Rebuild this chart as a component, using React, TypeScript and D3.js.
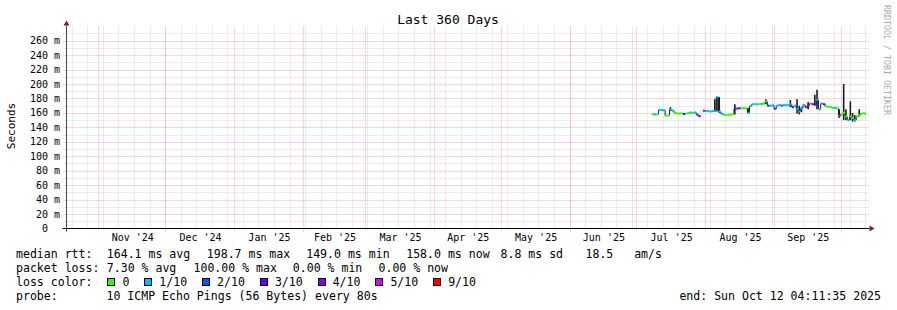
import React from "react";
import * as d3 from "d3";

// ---------- data ----------
const startTime = "2024-10-17T04:11:35Z";
const endTime = "2025-10-12T04:11:35Z";
const yTop = 276.8; // ms
const yMajorTicks = [0, 20, 40, 60, 80, 100, 120, 140, 160, 180, 200, 220, 240, 260];
const monthStarts = [
  "2024-11-01", "2024-12-01", "2025-01-01", "2025-02-01", "2025-03-01", "2025-04-01",
  "2025-05-01", "2025-06-01", "2025-07-01", "2025-08-01", "2025-09-01", "2025-10-01",
];
const monthLabels = ["Nov '24", "Dec '24", "Jan '25", "Feb '25", "Mar '25", "Apr '25", "May '25", "Jun '25", "Jul '25", "Aug '25", "Sep '25"];

const days = [
  "07-08", "07-09", "07-10", "07-11", "07-12", "07-13", "07-14", "07-15", "07-16", "07-17",
  "07-18", "07-19", "07-20", "07-21", "07-22", "07-23", "07-24", "07-25", "07-26", "07-27",
  "07-28", "07-29", "07-30", "07-31", "08-01", "08-02", "08-03", "08-04", "08-05", "08-06",
  "08-07", "08-08", "08-09", "08-10", "08-11", "08-12", "08-13", "08-14", "08-15", "08-16",
  "08-17", "08-18", "08-19", "08-20", "08-21", "08-22", "08-23", "08-24", "08-25", "08-26",
  "08-27", "08-28", "08-29", "08-30", "08-31", "09-01", "09-02", "09-03", "09-04", "09-05",
  "09-06", "09-07", "09-08", "09-09", "09-10", "09-11", "09-12", "09-13", "09-14", "09-15",
  "09-16", "09-17", "09-18", "09-19", "09-20", "09-21", "09-22", "09-23", "09-24", "09-25",
  "09-26", "09-27", "09-28", "09-29", "09-30", "10-01", "10-02", "10-03", "10-04", "10-05",
  "10-06", "10-07", "10-08", "10-09", "10-10", "10-11", "10-12",
];
const medianMs: (number | null)[] = [
  158, 158, 158, 164, 164, 163.5, 156, 156.5, 165, 163,
  160, 159.5, 159, 159.5, 158.5, 159, 159.5, 160.5, 160, 160.5,
  157.5, 155.5, null, 163, 162.5, 162.5, 162, 162.5, 162.5, 182,
  162, 159, 157.5, 157, 157, 157.5, 158, 166, 166, 166.5,
  166, 167, 166, 160, 169.5, 172, 172, 172, 172, 172.5,
  173, 176, 170, 170, 170.5, 165.5, 170, 171, 170, 171,
  170.5, 171, 172, 168, 170, 165, 162, 166, 171, 168,
  170, 173, 172, 172, 178, 165, 173, 172, 169, 168.5,
  168, 167, 167, 166, 156, 158, 160, 155, 150, 155,
  153, 150, 155.5, 157, 159, 159.5, 158,
];
const lossIdx = [
  0, 1, 0, 1, 1, 1, 0, 0, 1, 1,
  0, 0, 0, 0, 3, 0, 0, 1, 0, 1,
  2, 3, 0, 6, 1, 1, 1, 1, 1, 1,
  1, 1, 0, 0, 0, 0, 0, 3, 3, 3,
  0, 0, 0, 1, 1, 1, 0, 1, 0, 1,
  0, 0, 3, 1, 1, 2, 1, 1, 2, 1,
  1, 1, 1, 3, 1, 1, 1, 1, 1, 3,
  6, 1, 3, 3, 1, 1, 1, 3, 0, 0,
  0, 0, 1, 0, 5, 0, 0, 0, 1, 0,
  0, 1, 0, 0, 0, 0, 0,
];
const smokeLo: (number | null)[] = [
  null, null, null, null, null, null, null, null, 163, null,
  null, null, null, null, null, null, null, null, null, null,
  null, null, null, null, null, null, null, null, 162, 162,
  160, null, null, null, null, null, null, 158, null, null,
  null, null, null, 159, null, null, null, null, null, null,
  null, 172, null, null, null, null, null, null, null, null,
  null, null, 168, null, null, 159, 158, 161, null, null,
  165, null, null, 170, 165, null, null, null, null, null,
  null, null, null, null, 153, null, 150, 150, null, 150,
  148, 148, null, 155, null, null, null,
];
const smokeHi: (number | null)[] = [
  null, null, null, null, null, null, null, null, 168, null,
  null, null, null, null, null, null, null, null, null, null,
  null, null, null, null, null, null, null, null, 179, 182,
  182, null, null, null, null, null, null, 172, null, null,
  null, null, null, 167, null, null, null, null, null, null,
  null, 179, null, null, null, null, null, null, null, null,
  null, null, 178, null, null, 179, 170, 168, null, null,
  175, null, null, 185, 192, null, null, null, null, null,
  null, null, null, null, 165, null, 200, 165, null, 176,
  160, 157, null, 165, null, null, null,
];

const lossLabels = ["0", "1/10", "2/10", "3/10", "4/10", "5/10", "9/10"];
const lossColors = ["#26ff00", "#00b8ff", "#0059ff", "#5e00ff", "#7e00ff", "#dd00ff", "#ff0000"];

const rttItems = ["median rtt:", "164.1 ms avg", "198.7 ms max", "149.0 ms min", "158.0 ms now", "8.8 ms sd", "18.5   am/s"];
const lossStatItems = ["packet loss:", "7.30 % avg", "100.00 % max", "0.00 % min", "0.00 % now"];
const lossTitle = "loss color:";
const probeTitle = "probe:";
const probeText = "10 ICMP Echo Pings (56 Bytes) every 80s";
const endText = "end: Sun Oct 12 04:11:35 2025";
const titleText = "Last 360 Days";
const yAxisTitle = "Seconds";
const watermark = "RRDTOOL / TOBI OETIKER";

// ---------- layout ----------
const W = 897, H = 310;
const X0 = 65.5, X1 = 865.5;
const Y0 = 228.5, Y1 = 28.5;
const FONT = "'DejaVu Sans Mono', monospace";
const CH = 6.96; // legend char width
const PRE = { whiteSpace: "pre" as const };
const rttX = [16, 106.8, 206.8, 306.2, 406.2, 500.5, 585.5];
const lossStatX = [16, 106.8, 193.5, 292.8, 378.5];

export default function App() {
  const x = d3.scaleUtc().domain([new Date(startTime), new Date(endTime)]).range([X0, X1]);
  const y = d3.scaleLinear().domain([0, yTop]).range([Y0, Y1]);

  const minorY = d3.range(10, yTop, 10).filter((v) => v % 20 !== 0);
  const sundays = d3.utcSunday.range(new Date(startTime), new Date(endTime));
  const months = monthStarts.map((s) => new Date(s + "T00:00:00Z"));
  const dates = days.map((d) => new Date("2025-" + d + "T00:00:00Z"));
  const nextX = (i: number) => (i + 1 < dates.length ? x(dates[i + 1]) : X1);

  const minorColor = "#d6d6d6";
  const majorColor = "#f4aaaa";

  const lossItems: { bx: number; tx: number; label: string; color: string }[] = [];
  let cur = 16 + 13 * CH;
  lossLabels.forEach((l, i) => {
    lossItems.push({ bx: cur + 1, tx: cur + 16, label: l, color: lossColors[i] });
    cur += 16 + (l.length + 2) * CH;
  });

  const fmtY = (v: number) => (v === 0 ? "0  " : `${v} m`);

  return (
    <svg width={W} height={H} style={{ position: "absolute", left: 0, top: 0, background: "#fff" }} fontFamily={FONT}>
      <rect x={0} y={0} width={W} height={H} fill="#fff" />
      {minorY.map((v) => (
        <line key={"mh" + v} x1={X0 - 2} x2={X1 + 3} y1={Math.round(y(v)) + 0.5} y2={Math.round(y(v)) + 0.5} stroke={minorColor} strokeDasharray="1,1" />
      ))}
      {sundays.map((d, i) => (
        <line key={"mv" + i} x1={Math.round(x(d)) + 0.5} x2={Math.round(x(d)) + 0.5} y1={Y1 - 2} y2={Y0 + 2} stroke={minorColor} strokeDasharray="1,1" />
      ))}
      {yMajorTicks.filter((v) => v > 0).map((v) => (
        <line key={"Mh" + v} x1={X0 - 2} x2={X1 + 3} y1={Math.round(y(v)) + 0.5} y2={Math.round(y(v)) + 0.5} stroke={majorColor} strokeDasharray="1,1" />
      ))}
      {months.map((d, i) => (
        <line key={"Mv" + i} x1={Math.round(x(d)) + 0.5} x2={Math.round(x(d)) + 0.5} y1={Y1 - 2} y2={Y0 + 3} stroke={majorColor} strokeDasharray="1,1" />
      ))}

      {dates.map((d, i) =>
        smokeLo[i] != null && smokeHi[i] != null ? (
          <rect key={"s" + i} x={x(d)} width={1.6} y={y(smokeHi[i] as number)} height={y(smokeLo[i] as number) - y(smokeHi[i] as number)} fill="#1e1e1e" />
        ) : null
      )}
      {dates.map((d, i) => {
        if (i === 0) return null;
        const a = medianMs[i - 1], b = medianMs[i];
        if (a == null || b == null) return null;
        return <line key={"c" + i} x1={x(d)} x2={x(d)} y1={y(a)} y2={y(b)} stroke="#1e1e1e" strokeWidth={1} />;
      })}
      {dates.map((d, i) => {
        const v = medianMs[i];
        if (v == null) return null;
        return <line key={"m" + i} x1={x(d)} x2={nextX(i)} y1={y(v)} y2={y(v)} stroke={lossColors[lossIdx[i]]} strokeWidth={2} />;
      })}

      <line x1={X0 - 3} x2={X1 + 4} y1={Y0} y2={Y0} stroke="#000" strokeWidth={1} />
      <line x1={X0 + 1} x2={X0 + 1} y1={Y0 + 3} y2={Y1 - 3} stroke="#444" strokeWidth={1} />
      <polygon points={`${X0 + 1},${Y1 - 8} ${X0 - 2},${Y1 - 3} ${X0 + 4},${Y1 - 3}`} fill="#8b1a1a" />
      <polygon points={`${X1 + 9},${Y0} ${X1 + 4},${Y0 - 3} ${X1 + 4},${Y0 + 3}`} fill="#8b1a1a" />

      {yMajorTicks.map((v) => (
        <text key={"yl" + v} x={60} y={y(v)} dy="0.36em" textAnchor="end" fontSize={10} fill="#000" style={PRE} xmlSpace="preserve">
          {fmtY(v)}
        </text>
      ))}
      {monthLabels.map((l, i) => (
        <text key={"xl" + i} x={(x(months[i]) + x(months[i + 1])) / 2 + 1} y={241} textAnchor="middle" fontSize={10} fill="#000" style={PRE} xmlSpace="preserve">
          {l}
        </text>
      ))}

      <text x={448} y={24.3} textAnchor="middle" fontSize={13} fill="#000">{titleText}</text>
      <text transform={`translate(15,126) rotate(-90)`} textAnchor="middle" fontSize={11} fill="#000">{yAxisTitle}</text>
      <text transform={`translate(884,60) rotate(90)`} textAnchor="middle" fontSize={8.3} fill="#aaa">{watermark}</text>

      <g fontSize={11.55} fill="#000">
        {rttItems.map((t, i) => (
          <text key={"r" + i} x={rttX[i]} y={258.4} style={PRE} xmlSpace="preserve">{t}</text>
        ))}
        {lossStatItems.map((t, i) => (
          <text key={"p" + i} x={lossStatX[i]} y={272.4} style={PRE} xmlSpace="preserve">{t}</text>
        ))}
        <text x={16} y={286.4} style={PRE} xmlSpace="preserve">{lossTitle}</text>
        {lossItems.map((it, i) => (
          <g key={"li" + i}>
            <rect x={Math.round(it.bx) + 0.5} y={278.5} width={7} height={7} fill={it.color} stroke="#000" strokeWidth={1} />
            <text x={it.tx} y={286.4} style={PRE} xmlSpace="preserve">{it.label}</text>
          </g>
        ))}
        <text x={16} y={300.4} style={PRE} xmlSpace="preserve">{probeTitle}</text>
        <text x={16 + 13 * CH} y={300.4} style={PRE} xmlSpace="preserve">{probeText}</text>
        <text x={881} y={300.4} textAnchor="end" style={PRE} xmlSpace="preserve">{endText}</text>
      </g>
    </svg>
  );
}
